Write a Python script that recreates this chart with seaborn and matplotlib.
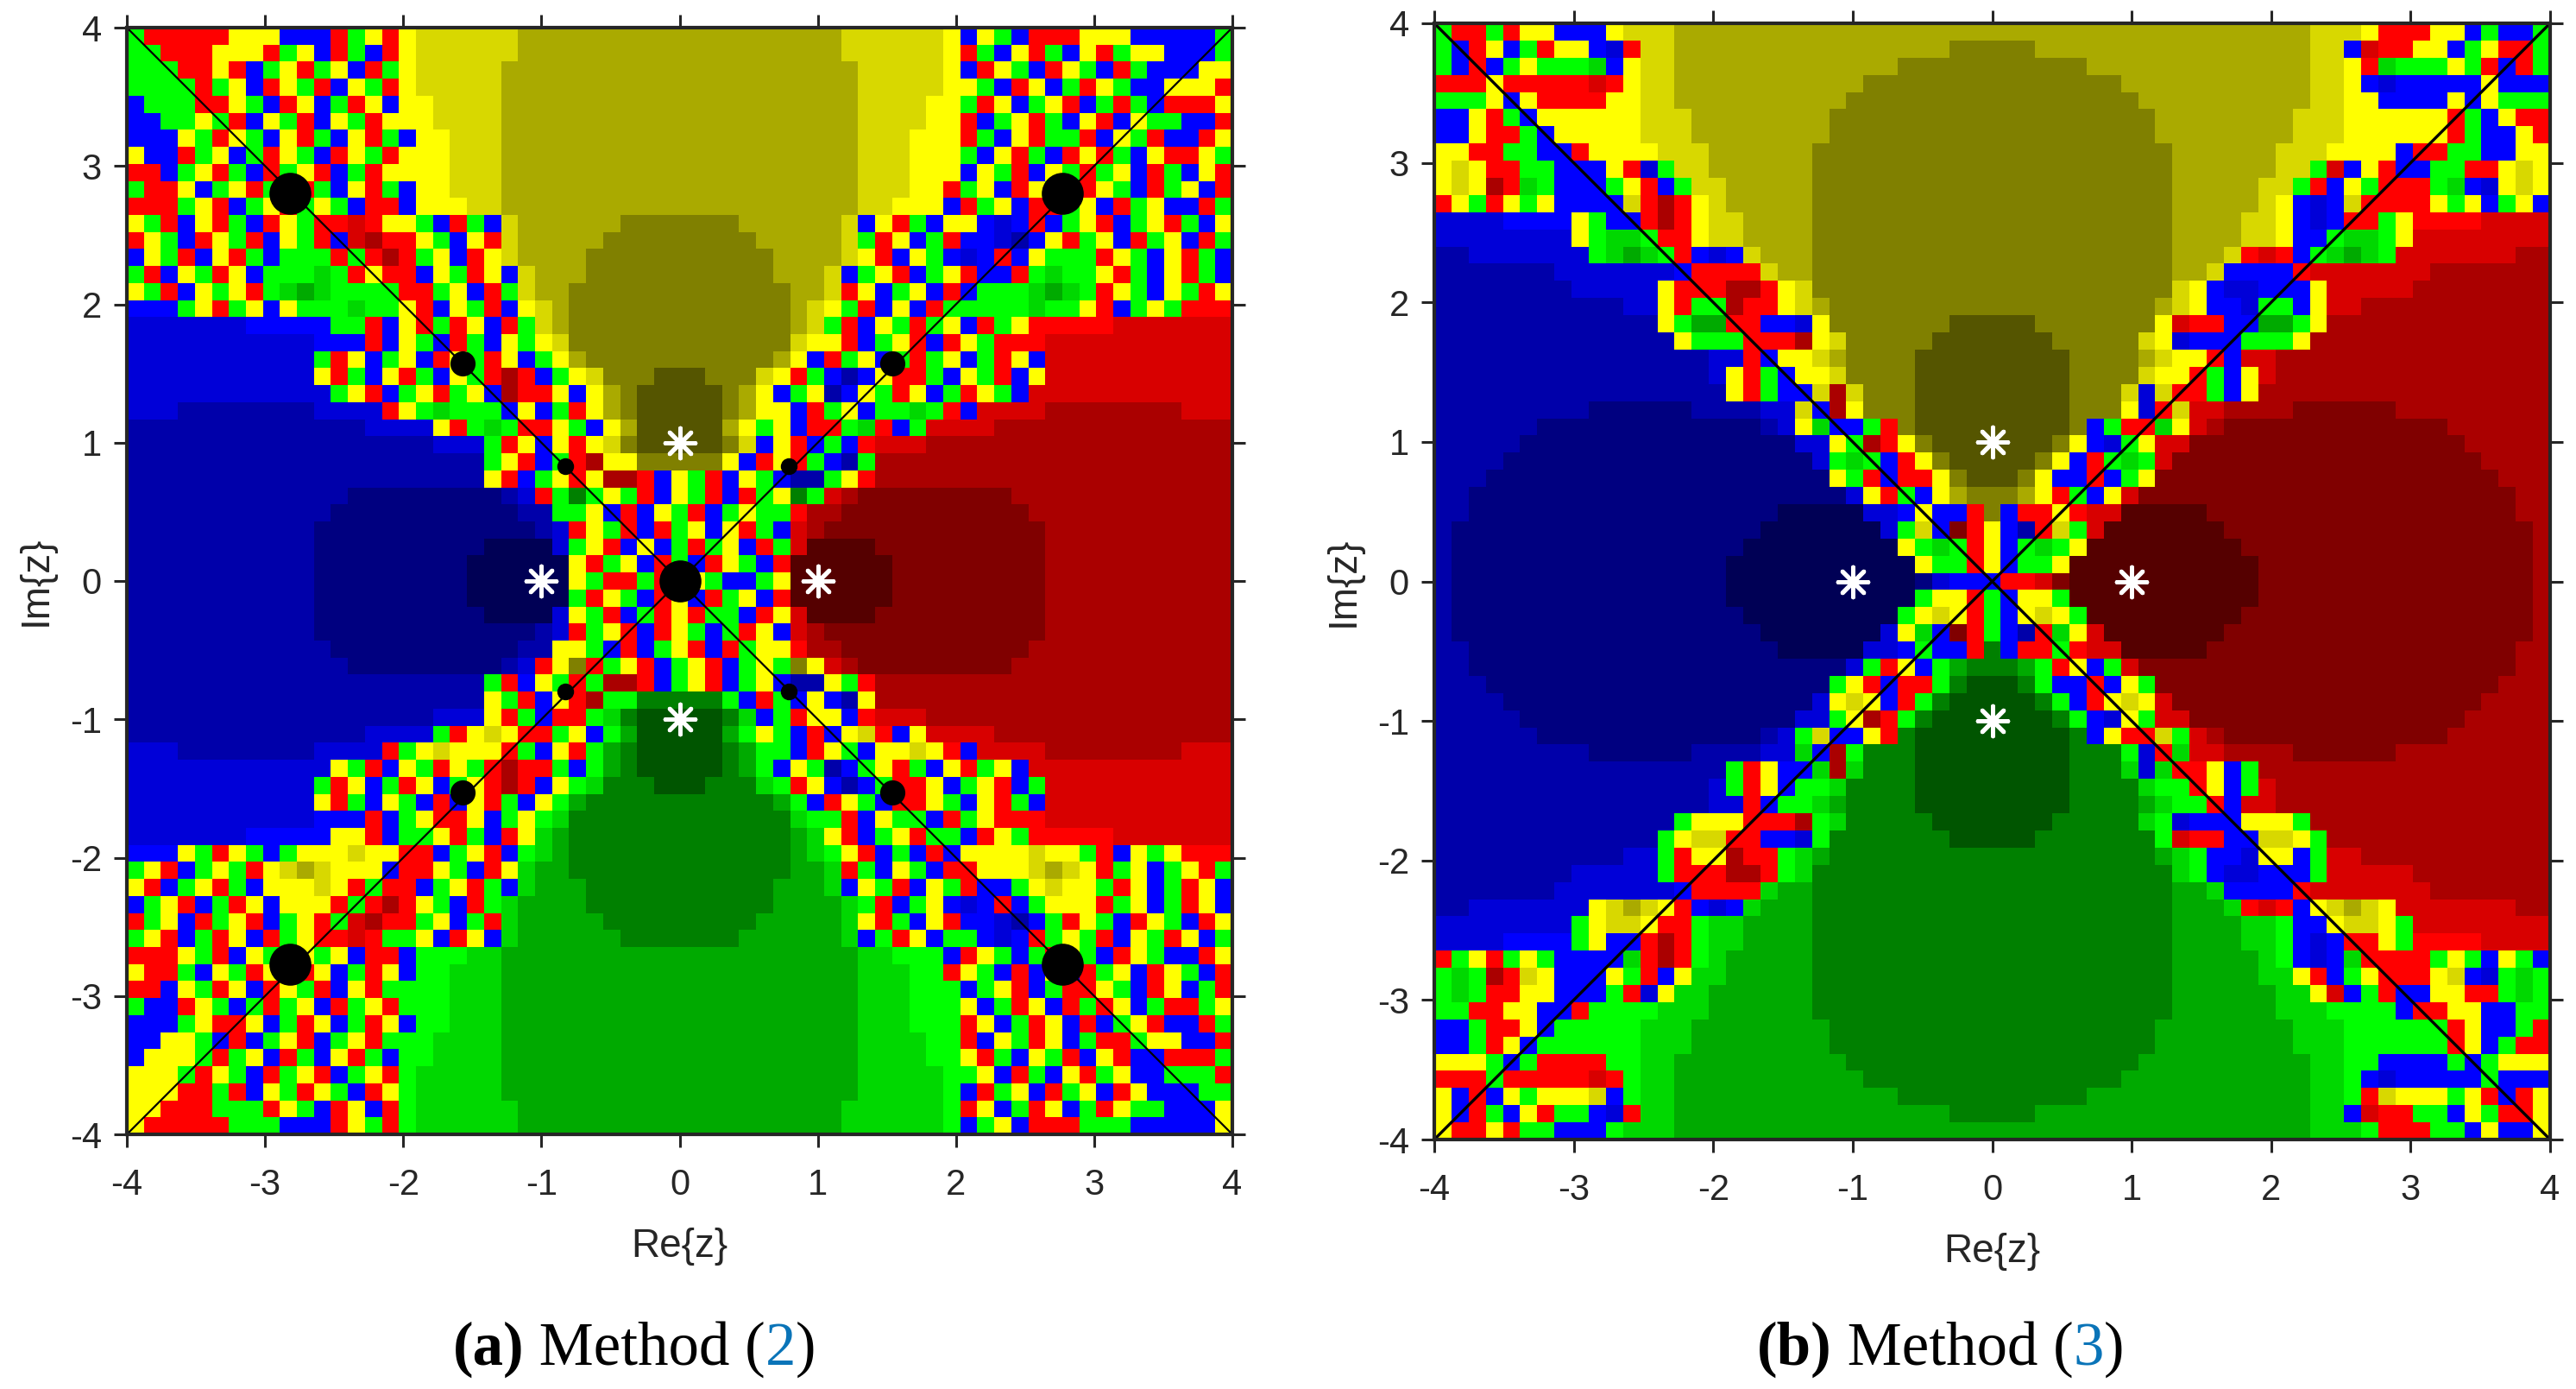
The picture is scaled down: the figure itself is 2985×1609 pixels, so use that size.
import re
import pandas as pd
import seaborn as sns
import matplotlib.pyplot as plt
from matplotlib.colors import ListedColormap

# cell letters, run length after a letter: Y a b c d yellow, B e f g h blue,
# R i j k l red, G m n o p green
letters = "YabcdBefghRijklGmnop"
colours = ["#ffff00", "#d8d800", "#aaaa00", "#808000", "#555500",
           "#0000ff", "#0000d8", "#0000aa", "#000080", "#000055",
           "#ff0000", "#d80000", "#aa0000", "#800000", "#550000",
           "#00ff00", "#00d800", "#00aa00", "#008000", "#005500"]

rows_a = [
"GRRRR RYYYB BBRGY R Y a6 b19 a6 Y BYGBR RRYYY BBBBB G",
"GGRRR YYYRG YBRGB R Y a6 b19 a6 Y RGBYR GBYRG YYBBB G",
"GGGRR YRBGY RGYBR G Y a5 b21 a5 Y BRYGB RYGBR GBBBY Y",
"GGGGR GYBRY GRBYG R Y a5 b21 a5 Y YGBRY BGRYG BBYYY R",
"BGGGR RYGBR YBGRY B Y2 a4 b21 a4 Y2 GRYBG YRBGR GBRRR Y",
"BBGGY GRBYG RBYGR Y Y2 a4 b21 a4 Y2 RBGYR GBYRB YGGBB R",
"BBBYG RYGBY RGBYR GB Y2 a3 b21 a3 Y2 YRGBY RGGRB YGRBB RY",
"YBBRG YBGRY GBRYG R Y3 a3 b21 a3 Y3 GBYRG BRYRG BYRRY G",
"RRBGY RGBRG YRBGR Y Y3 a3 b21 a3 Y3 BYGRB YGRGY BRGBY R",
"GRRYB GYRGB RGBYR GB Y2 a3 b21 a3 Y2 RGYBR YGBRY GBRGY BR",
"RRRGY RBGYR GYGBR RB Y3 a2 b21 a2 Y3 BRGYB RRGYB RGYBB RG",
"YGRBY RGBRY GRRiR YYGBR GB a b6 c7 b6 a BYRGB YYBeB RBGYR BGYRG BY",
"RYGBR YGRBY GRBij RRYGB YR a b5 c9 b5 a GRYBG RBBef BYRGY BRGYB RG",
"BYGRB YRGBG GGRGR jRGYB R Y a b4 c11 b4 a Y RBYGB eBRBY GGGRY GBYRG B",
"GRBYG RYBGG GmGRY RRBYG RYB a b3 c11 b3 a BGYRB GYRBB RGmGG YRGBY RGB",
"YGRBY GYRGm nmGGG GRRGY BRG a b2 c13 b2 a RYBGY BRBGG GmnmG RYGBY GRY",
"BBBGY RGYBY GGGmG GYRBY GRBY a b c13 b a YGRBY BRGGG GGmGG YRBGY GRRR",
"e7 B5 GGRBY RGRYB RG a b c13 b a GRBYG RGYBR GY R5 i7",
"e11 B3 RBYGB RGBYG Y a c13 a Y YRBGY RBRYG R3 i11",
"e11 GRYBG YBRYG RYBG Y b c11 b Y BRGYB GRGYB GRYB i11",
"e11 YRGBY RGBYG RjRBG Y a c3 d3 c3 a Y RGBfB YRRGB YGRBY i11",
"e12 GYRBG YRGYB jRRYB Y b c d5 c b Y BGYfB YGRYB GRYGB i12",
"e3 f8 e4 RYGmG GGBYB GR Y b c d5 c b Y YBRGY BGGmG RB i4 j8 i3",
"f14 e4 YRGmG RRYGB Y b d5 b Y GYBRR GmRBG i4 j14",
"f18 e3 GRYBY RY a c d5 c a BYRBG BR i3 j18",
"f21 GYRBG RjY Y c5 Y BRYRG BfG j21",
"f21 YRBGY RYjjR BYGRB YGBff GYR j21",
"f13 g9 f e RGoGY GRBYG RBRGY oG i j k9 j13",
"f12 g11 f2 GGYBR BYGRB GYGGR j2 k11 j12",
"f11 g13 f e RYGRB RGYBY RGB i j k13 j11",
"f11 g10 h4 e GYRBY BGRGY BRG i l4 k10 j11",
"f11 g9 h6 YRGYB RGBRY GBR l6 k9 j11",
"f11 g9 h6 YGRRG RBYGB BGY l6 k9 j11",
"f11 g9 h6 GRYGB RYBRG YBR l6 k9 j11",
"f11 g10 h4 e YGRBG RYRGG BRY i l4 k10 j11",
"f11 g13 f e RGYRB RYGBG RYB i j k13 j11",
"f12 g11 f2 YYGBR BGYRB RGYYR j2 k11 j12",
"f13 g9 f e RYcRG YRBGY RBGYG cY i j k9 j13",
"f21 GRBYG RGjjR BGYRB GYBff YGR j21",
"f21 YGRBY RjG G o5 G BRGBY BfY j21",
"f18 e3 YRGBR RG m o p5 o m BGRYY BR i3 j18",
"f14 e4 GRYaY RRGYB G n p5 n G YGBRB YaRBY i4 j14",
"e3 f8 e4 RGYaY YYRGB YR G n o p5 o n G GBRYG BYYaY RB i4 j8 i3",
"e12 YGRBY GRYGR jRRGB G n o p5 o n G BYGfB GYRGB YRGYB i12",
"e11 GRYBG RYBGY RjRBY G m o3 p3 o3 m G RYBfB GRRYB GYRBG i11",
"e11 YRGBY GBRBY RGBY G n o11 n G BRYGB RRYGB YRGB i11",
"e11 B3 RBGYR RYBGY G m o13 m G GRBYG GBRGY R3 i11",
"e7 B5 YYRBG GYRGB RY m n o13 n m YRBGY RGGBR YG R5 i7",
"BBBYG RYGBG YYYaY YRRBG YRBG m n o13 n m GYRBG BRBYY YYaYY GRBYG YRRR",
"GYRBG YGRYa baYYY BRRYG BRY m n2 o13 n2 m RGBYG BRRYY YabaY RGYBG YRG",
"YRBGY RGBYY YaYRG RRBGY RGB m n3 o11 n3 m BYGRB YGRBB GYaYY GRYBG RYB",
"BGYRB GRYBY YYRGR jRYGB R G m n4 o11 n4 m G RBGYB eBRBG YYYRG YBGRY B",
"RGYBR GYRBG YRGij RRGYB GR m n5 o9 n5 m YRGBY RBBef BGRYG BRYGB RY",
"GYRBG RYBRG YRRiR GGYBR YB m n6 o7 n6 m BGRYB GGBeB RGYGR BYGRY BG",
"RRRYG RBYGR YGYBR RB G3 m2 n21 m2 G3 BRYGB GRYGB RYGBB RY",
"YRRGB YGRYB RYBGR YB G2 m3 n21 m3 G2 RYGBR BYBRG YBRYG BR",
"RRBYG RYBRY GRBYR G G3 m3 n21 m3 G3 BGYRB GRRYG BRYBG R",
"GBBRY GBGRG YBRGY R G3 m3 n21 m3 G3 YBGRY BRGRY BGRRG Y",
"BBBGY RRYBG RYBGR YB G2 m3 n21 m3 G2 GRYBG RYBRB GYRBB RG",
"BBYYG BRBGY RBGYR G G2 m4 n21 m4 G2 RBYGR YBGRR GYYBB R",
"BYYYG RGYBR GBYRG B G2 m4 n21 m4 G2 YRGBY GRBYR BBRRR G",
"YYYGR YGBRG YRBGY R G m5 n21 m5 G GYBRG BYRGY BBGGG R",
"YYYRR GRBYG RYGBR Y G m5 n21 m5 G BRGYB RGYBR YBBBG G",
"YYRRR GGGRY GBRYB R G m6 n19 m6 G RYBGR YBGRY GGBBB Y",
"YRRRR RGGGB BBRYG R G m6 n19 m6 G BGYBR RRGGG BBBBB Y",
]

rows_b = [
"GRRGR YYBBB Y a3 b37 a3 Y RRRYY BGBBG",
"GBRYB GRYYB eR a2 b16 c5 b16 a2 BiRRY YBGYR RG",
"GBRBG YGGGm BY a2 b13 c11 b13 a2 YRmGG GYGRB RG",
"RRRYR RRRRi RY a2 b11 c15 b11 a2 YBeBB BBBYB BB",
"GGGYB YRRRR YY a2 b10 c17 b10 a2 YYBBB BYBYG GG",
"BBYRG BYYYY YY a3 b8 c19 b8 a3 YYYYY YRGBY RR",
"BBYRR GBYYY YY a3 b8 c19 b8 a3 YYYYY YRGBB YR",
"YYRRG GBBRY YYY a3 b6 c21 b6 a3 YYYYB RRGGB BYY",
"YaYRR GGBBB YReG a2 b6 c21 b6 a2 GiBYR BBGGR RYaY",
"YaYjR mGBBB GYRBG a2 b5 c21 b5 a2 GRBYG RRRGm BeYaY",
"RYGRY GYBBB BaRjR Y a b5 c21 b5 a Y BeBaR RRRYG YBGYB",
"e4 B4 YGBBR jR Y a2 b4 c21 b4 a2 Y BeBRR GY R4 i4",
"e8 YGmmG RR Y a2 b4 c21 b4 a2 Y BBGmm GY i8",
"f2 e7 GmnmG RBeB a b3 c21 b3 a RiRBG mnmG i7 j2",
"f7 e7 B R4 a b2 c21 b2 a B4 R i7 j7",
"f8 e5 YRRRj jR Y a c21 a Y BeeBB BY i5 j8",
"f11 e2 YRGGj RR Y a b c19 b a Y BBeGG BY i2 j11",
"f13 YGnnR RBBeY c7 d5 c7 YiRRB BnnGY j13",
"f14 YGGGR RRjY a c5 d7 c5 a YeBBB GGGY j14",
"f16 e2 RB Y2 a b c4 d9 c4 b a Y2 RB i2 j16",
"f16 e YRGBY Y a c4 d9 c4 a Y2 RGBY i j16",
"f17 YRGBB aj a c3 d9 c3 a eaRRG BY j17",
"f9 g6 f4 e2 aBjY c3 d9 c3 YeRa i2 j4 k6 j9",
"f6 g13 f e YmBBG R c d9 c BGRRm Y i j k13 j6",
"f5 g16 e2 YGjRY c d7 c YBeGY i2 k16 j5",
"f4 g18 e GmGBR Y c d5 c YBRGm G i k18 j4",
"f3 g20 YGRBR RY c d3 c YBBRB GY k20 j3",
"f2 g22 e YRGBY b c3 b YRGBY i k22 j2",
"f2 g18 h5 e2 B YBBRc BRRY R i2 l5 k18 j2",
"f g18 h7 e GaBkR YBfRa G i l7 k18 j",
"f g17 h9 YGmGR YBGmG Y l9 k17 j",
"f g16 h11 YGGRY BGGY l11 k16 j",
"f g16 h11 g e B3 R2 i k l11 k16 j",
"f g16 h11 GYYRG BYYG l11 k16 j",
"f g17 h9 GYaYR GBYaY G l9 k17 j",
"f g18 h7 e YmBkR GBfRm Y i l7 k18 j",
"f2 g18 h5 e2 B GBBRo BRRG R i2 l5 k18 j2",
"f2 g22 e GRYBG n o3 n GRYBG i k22 j2",
"f3 g20 GYRBR RG o p3 o GBBRB YG k20 j3",
"f4 g18 e YaYBR G o p5 o GBRYa Y i k18 j4",
"f5 g16 e2 GYjRG o p7 o GBeYG i2 k16 j5",
"f6 g13 f e GaBBY R o p9 o BYRRa G i j k13 j6",
"f9 g6 f4 e2 mBjG o3 p9 o3 GeRm i2 j4 k6 j9",
"f17 GRYBB mj m o3 p9 o3 m emRRY BG j17",
"f16 e GRYBG G m o4 p9 o4 m G2 RYBG i j16",
"f16 e2 RB G2 m n o4 p9 o4 n m G2 RB i2 j16",
"f14 GYYYR RRjG m o5 p7 o5 m GeBBB YYYG j14",
"f13 GYaaR RBBeG o7 p5 o7 GiRRB BaaYG j13",
"f11 e2 GRYYj RR G m n o19 n m G BBeYY BG i2 j11",
"f8 e5 GRRRj jR G m o21 m G BeeBB BG i5 j8",
"f7 e7 B R4 m n2 o21 n2 m B4 R i7 j7",
"f2 e7 YabaY RBeB m n3 o21 n3 m RiRBY abaY i7 j2",
"e8 GYaaY RR G m2 n4 o21 n4 m2 G BBYaa YG i8",
"e4 B4 GYBBR jR G m2 n4 o21 n4 m2 G BeBRR YG R4 i4",
"RGYRG YGBBB BmRjR G m n5 o21 n5 m G BeBmR RRRGY GBYGB",
"GmGjR aYBBB YGRBY m2 n5 o21 n5 m2 YRBGY RRRYa BeGmG",
"GmGRR YYBBB GReY m2 n6 o21 n6 m2 YiBGR BBYYR RGmG",
"GGRRY YBBRG GGG m3 n6 o21 n6 m3 GGGGB RRYYB BGG",
"BBGRR YBGGG GG m3 n8 o19 n8 m3 GGGGG GRYBB GR",
"BBGRY BGGGG GG m3 n8 o19 n8 m3 GGGGG GRYBG RR",
"YYYGB GRRRR GG m2 n10 o17 n10 m2 GGBBB BGBGY YY",
"RRRGR RRRRi RG m2 n11 o15 n11 m2 GBeBB BBBGB BB",
"YBRBY GYYYa BG m2 n13 o11 n13 m2 GRaYY YGYRB RY",
"YBRGB YRGGB eR m2 n16 o5 n16 m2 BiRRG GBYGR RY",
"YRRYR GGBBB G m3 n37 m3 G RRRGG BYBBY",
]

ticks = [-4, -3, -2, -1, 0, 1, 2, 3, 4]
root_x = [-1, 1, 0, 0]
root_y = [0, 0, 1, -1]
big_x = [-2.82, 2.77, -2.82, 2.77, 0]
big_y = [2.8, 2.8, -2.77, -2.77, 0]
mid_x = [-1.57, 1.54, -1.57, 1.54]
mid_y = [1.57, 1.57, -1.53, -1.53]
small_x = [-0.83, 0.79, -0.83, 0.79]
small_y = [0.83, 0.83, -0.8, -0.8]
diag_x = [-4, 4]
diag_up = [-4, 4]
diag_down = [4, -4]


def parse(rows):
    table = []
    for n, row in enumerate(rows):
        cells = []
        for ch, count in re.findall(r"([A-Za-z])(\d*)", row):
            cells += [letters.index(ch)] * int(count or 1)
        if len(cells) != 65:
            raise ValueError(f"row {n} has {len(cells)} cells: {row}")
        table.append(cells)
    return pd.DataFrame(table)


W, H = 2985, 1609
sns.set_style("white")
plt.rcParams["font.family"] = ["Liberation Sans", "DejaVu Sans"]
fig = plt.figure(figsize=(W / 100, H / 100), dpi=100)
cmap = ListedColormap(colours)
dark = "#262626"


def panel(rows, left, top, right, bottom, diag_lw):
    ax = fig.add_axes([left / W, 1 - bottom / H, (right - left) / W, (bottom - top) / H])
    df = parse(rows)
    sns.heatmap(df, ax=ax, cmap=cmap, vmin=-0.5, vmax=19.5, cbar=False,
                xticklabels=False, yticklabels=False)
    n = df.shape[0]
    # heatmap axes count cells, so every value goes through these two
    ax.to_x = lambda v: (v + 4) / 8 * n
    ax.to_y = lambda v: (4 - v) / 8 * n
    ax.set_xticks([ax.to_x(t) for t in ticks])
    ax.set_yticks([ax.to_y(t) for t in ticks])
    ax.set_xticklabels(ticks)
    ax.set_yticklabels(ticks, rotation=0)
    ax.tick_params(length=11, width=2.2, color=dark, labelcolor=dark, labelsize=30,
                   top=True, right=True, bottom=True, left=True)
    ax.tick_params(axis="x", pad=17)
    ax.tick_params(axis="y", pad=10)
    for s in ax.spines.values():
        s.set_visible(True)
        s.set_linewidth(3)
        s.set_color(dark)
    ax.set_xlabel("Re{z}", fontsize=33, color=dark, labelpad=21)
    ax.set_ylabel("Im{z}", fontsize=33, color=dark, labelpad=12)
    # the black lines along both diagonals
    for ys in (diag_up, diag_down):
        ax.plot([ax.to_x(v) for v in diag_x], [ax.to_y(v) for v in ys],
                color="black", lw=diag_lw, zorder=2)
    return ax


def spots(ax, xs, ys, size):
    ax.scatter([ax.to_x(v) for v in xs], [ax.to_y(v) for v in ys], s=size**2,
               c="black", linewidths=0, zorder=3)


def stars(ax):
    ax.scatter([ax.to_x(v) for v in root_x], [ax.to_y(v) for v in root_y], s=620,
               marker=(8, 2, 0), c="white", linewidths=3.6, zorder=4)


def caption(centre, base, letter, number):
    parts = [(f"({letter})", "bold", "black"), (" Method (", "normal", "black"),
             (number, "normal", "#0a74b8"), (")", "normal", "black")]
    texts = [fig.text(0, 1 - base / H, p[0], family="Liberation Serif", fontsize=51,
                      weight=p[1], color=p[2], ha="left", va="baseline") for p in parts]
    r = fig.canvas.get_renderer()
    widths = [t.get_window_extent(r).width for t in texts]
    x = centre - sum(widths) / 2
    for t, w in zip(texts, widths):
        t.set_x(x / W)
        x += w


ax_a = panel(rows_a, 147, 32, 1428, 1314, 1.6)
spots(ax_a, big_x, big_y, 35)
spots(ax_a, mid_x, mid_y, 21)
spots(ax_a, small_x, small_y, 14)
stars(ax_a)

ax_b = panel(rows_b, 1662, 27, 2955, 1320, 2.4)
stars(ax_b)

caption(735, 1581, "a", "2")
caption(2249, 1581, "b", "3")

fig.savefig("out.png", dpi=100)
